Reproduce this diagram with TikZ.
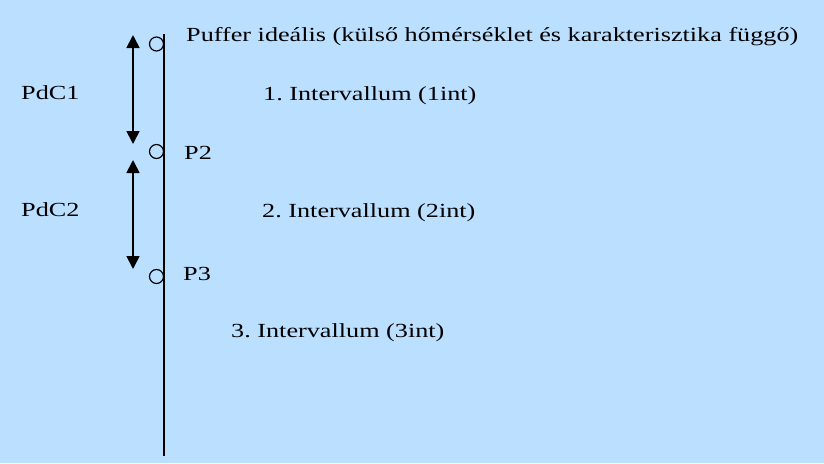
\documentclass[tikz,border=0pt]{standalone}
\usepackage{fontspec}
\setmainfont{Liberation Serif}
\usetikzlibrary{arrows.meta}
\definecolor{bg}{RGB}{187,224,255}
\frenchspacing
\newcommand{\wide}[1]{\scalebox{1.31}[1]{#1}}
\begin{document}
\begin{tikzpicture}[x=1pt,y=-1pt,
  lbl/.style={anchor=base west,inner sep=0pt,font=\fontsize{20}{24}\selectfont},
  ring/.style={circle,draw,line width=1.2pt,minimum size=14pt,inner sep=0pt},
  dim/.style={line width=1.8pt,{Triangle[width=13pt,length=13pt]}-{Triangle[width=13pt,length=13pt]}}]
\fill[bg] (0,0) rectangle (824,463);
\useasboundingbox (0,0) rectangle (824,463);
\coordinate (top) at (164,34);
\coordinate (bot) at (164,456);
\draw[line width=1.5pt] (top) -- (bot);
\node[ring] (c1) at (156.5,44) {};
\node[ring] (c2) at (156.5,151.5) {};
\node[ring] (c3) at (156.5,276.5) {};
\coordinate (a1s) at (133,35);
\coordinate (a1e) at (133,144);
\coordinate (a2s) at (133,160);
\coordinate (a2e) at (133,269);
\draw[dim] (a1s) -- (a1e);
\draw[dim] (a2s) -- (a2e);
\node[lbl] (t0) at (186,41) {\wide{Puffer ideális (külső hőmérséklet és karakterisztika függő)}};
\node[lbl] (pdc1) at (21,99.5) {\wide{PdC1}};
\node[lbl] (i1) at (263,100.5) {\wide{1. Intervallum (1int)}};
\node[lbl] (p2) at (184,159.5) {\wide{P2}};
\node[lbl] (pdc2) at (21,216) {\wide{PdC2}};
\node[lbl] (i2) at (262,217.5) {\wide{2. Intervallum (2int)}};
\node[lbl] (p3) at (183,280) {\wide{P3}};
\node[lbl] (i3) at (231,337.5) {\wide{3. Intervallum (3int)}};
\end{tikzpicture}
\end{document}
